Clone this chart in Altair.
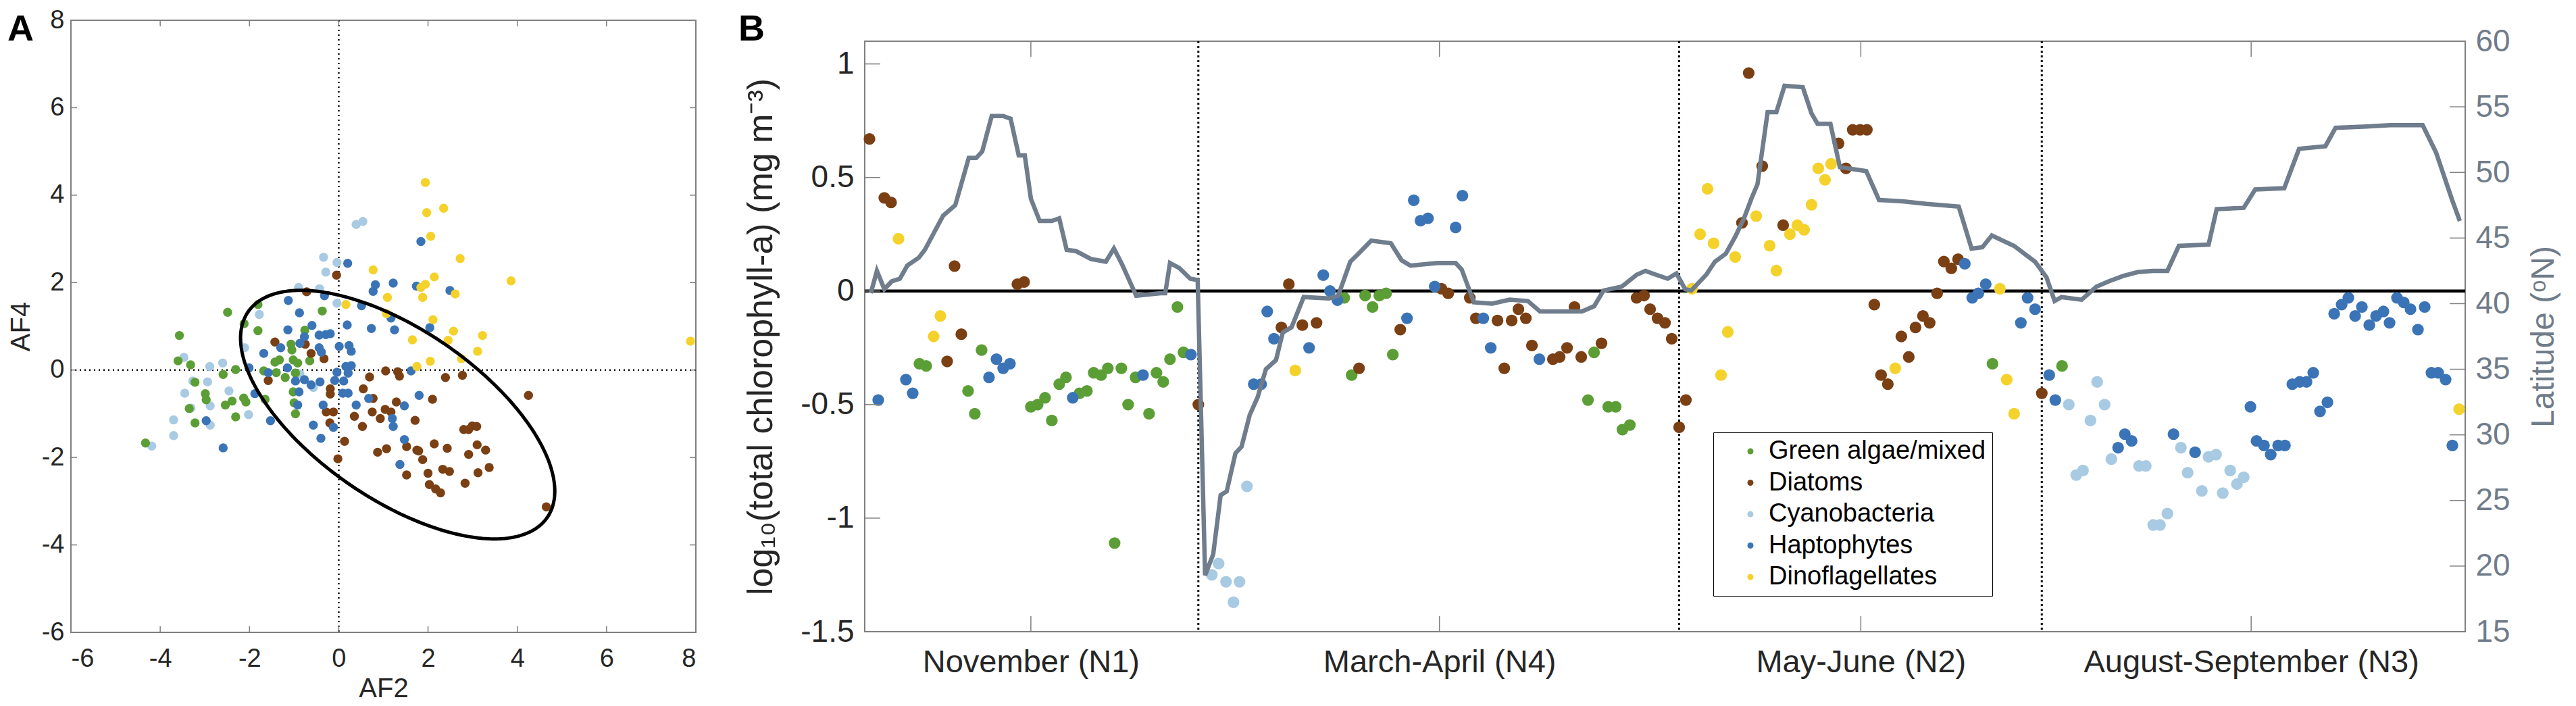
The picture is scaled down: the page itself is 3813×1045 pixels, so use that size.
import altair as alt
import pandas as pd
import numpy as np

CLASSES = ["Green algae/mixed", "Diatoms", "Cyanobacteria", "Haptophytes", "Dinoflagellates"]
COLORS = ["#5C9E36", "#7B3F14", "#A8CAE2", "#3B74B6", "#F4D22B"]
TXT = "#262626"
LATC = "#6F7D8C"

# ---------------- Panel A data (AF2, AF4) ----------------
a_green_x = [-2.49, -3.57, -1.81, -2.12, -1.81, -0.37, -0.76, -3.60, -3.32, -2.31, -2.59, -3.22, -2.99, -2.97,
             -2.54, -2.39, -2.13, -2.08, -1.65, -2.31, -3.22, -4.33, -3.35, -1.07, -1.05, -1.43, -1.33, -1.02,
             -0.92, -0.65, -1.68, -1.40, -1.20, -0.97, -1.02, -1.00, -0.97]
a_green_y = [1.32, 0.79, 1.50, 1.06, 0.90, 1.35, 0.91, 0.21, 0.12, 0.01, -0.10, -0.28, -0.54, -0.68,
             -0.80, -0.71, -0.64, -0.73, -0.67, -1.07, -1.21, -1.67, -0.88, 0.59, 0.46, 0.18, 0.23, 0.23,
             0.16, 0.21, -0.02, -0.06, -0.17, -0.07, -0.50, -0.75, -1.00]
a_cyano_x = [0.39, 0.54, -0.34, -0.04, -0.29, -0.90, -0.43, -0.04, -1.78, -2.11, -3.47, -2.89, -2.60, -3.27,
             -2.94, -3.45, -2.46, -3.31, -2.88, -2.02, -3.70, -2.88, -3.70, -4.19, -0.87, -0.57]
a_cyano_y = [3.33, 3.40, 2.58, 2.46, 2.24, 1.89, 1.86, 1.53, 1.27, 0.51, 0.29, 0.08, 0.16, -0.25,
             -0.27, -0.53, -0.48, -0.87, -0.82, -1.02, -1.14, -1.26, -1.50, -1.74, -0.09, -0.40]
a_hapto_x = [0.20, 0.82, 0.77, 1.22, -1.13, -0.32, -0.88, 0.19, 0.51, 0.73, 1.25, 1.17, -1.14, -0.60, -0.77,
             -0.44, -0.29, -0.19, -1.30, -1.68, -0.44, -0.39, -0.87, 0.01, 0.23, 0.28, -2.01, -1.58, -1.15,
             -0.97, -0.77, -0.62, -0.42, -0.04, 0.16, 0.28, 0.21, -0.09, 0.11, 0.09, 0.21, -0.89, -1.88,
             -0.92, -0.35, 0.39, 0.67, -1.53, -2.97, -0.57, -0.12, -0.40, -2.59, 1.20, 1.22, 1.37,
             1.84, 1.74, 2.49, 2.04, 1.62, 1.80, 1.47, 1.47]
a_hapto_y = [2.44, 1.95, 1.80, 1.99, 1.59, 1.70, 1.31, 1.03, 1.47, 0.95, 0.92, 1.19, 0.92, 1.02, 0.76,
             0.80, 0.81, 0.83, 0.51, 0.38, 0.51, 0.41, 0.61, 0.54, 0.56, 0.43, 0.05, -0.06, 0.05,
             -0.25, -0.22, -0.34, -0.27, -0.05, 0.08, 0.10, -0.07, -0.24, -0.25, -0.53, -0.53, -0.50, -0.54,
             -0.80, -0.80, -0.80, -0.65, -1.16, -1.16, -1.26, -1.31, -1.56, -1.78, -1.11, -1.29, -2.16,
             2.94, 1.92, 1.82, 0.97, -0.02, -0.58, -0.82, -1.59]
a_diatom_x = [-0.05, -0.72, -1.43, -0.75, -0.62, -0.33, -1.58, 0.69, 1.05, 1.32, 1.36, -0.19, -0.19, 0.55,
              0.77, 1.29, -0.28, -0.12, -0.20, 0.35, 0.75, 1.04, 1.17, 0.93, 0.53, 0.13, -0.02, 0.87, 1.07,
              2.39, 2.77, 4.25, 2.10, 1.71, 2.80, 2.91, 2.99, 3.09, 2.14, 2.43, 3.10, 3.29, 2.91, 1.52,
              1.75, 1.79, 1.88, 2.33, 2.48, 2.00, 1.52, 3.12, 3.37, 2.83, 2.03, 2.17, 2.28, 4.65]
a_diatom_y = [2.17, 1.79, 0.64, 0.59, 0.38, 0.26, -0.24, -0.16, -0.02, -0.04, -0.14, -0.43, -0.55, -0.43,
              -0.65, -0.73, -0.96, -0.96, -1.21, -1.06, -0.96, -0.90, -0.96, -1.11, -1.29, -1.63, -2.03, -1.88, -1.80,
              -0.17, -0.12, -0.58, -0.67, -1.15, -1.36, -1.36, -1.28, -1.29, -1.69, -1.79, -1.71, -1.83, -1.93, -1.75,
              -1.83, -1.85, -2.05, -2.27, -2.32, -2.36, -2.40, -2.35, -2.23, -2.59, -2.62, -2.72, -2.81, -3.13]
a_dino_x = [0.77, 1.09, 0.16, 1.07, 1.94, 1.97, 2.35, 2.06, 2.72, 2.14, 1.94, 1.84, 1.88, 2.61, 3.86,
            2.11, 2.57, 1.65, 2.45, 3.22, 3.11, 2.05, 2.75, 1.75, 7.88]
a_dino_y = [2.29, 1.66, 1.50, 1.29, 4.29, 3.60, 3.70, 3.06, 2.55, 2.13, 1.96, 1.89, 1.66, 1.74, 2.04,
            1.15, 0.89, 0.69, 0.68, 0.79, 0.43, 0.20, 0.26, 0.08, 0.66]
a_ticks = [-6, -4, -2, 0, 2, 4, 6, 8]
# ellipse: centre and Cholesky factor (lxx, lyx, lyy) of its shape matrix
ell_center = [1.32, -1.02]
ell_shape = [3.52, -1.75, 2.24]

# ---------------- Panel B data ----------------
b_green_x = [8.1, 9.1, 15.3, 16.3, 17.3, 24.6, 25.6, 26.7, 27.7, 28.8, 29.8, 31.8, 32.9, 33.9, 35.0, 36.0, 37.0,
             38.0, 39.0, 40.1, 42.1, 43.2, 44.2, 45.2, 46.3, 47.2, 71.0, 72.1, 74.1, 75.2, 76.2, 77.2, 78.2,
             107.1, 108.0, 110.1, 111.2, 112.2, 113.3, 167.0, 177.3]
b_green_y = [-0.32, -0.33, -0.44, -0.54, -0.26, -0.51, -0.50, -0.47, -0.57, -0.41, -0.38, -0.45, -0.44, -0.36,
             -0.37, -0.34, -1.11, -0.34, -0.50, -0.38, -0.54, -0.36, -0.40, -0.30, -0.07, -0.27, -0.03, -0.37,
             -0.02, -0.07, -0.02, -0.01, -0.28, -0.48, -0.27, -0.51, -0.51, -0.61, -0.59, -0.32, -0.33]
b_diatom_x = [0.7, 2.9, 3.9, 12.2, 13.3, 14.3, 22.6, 23.6, 49.4, 61.7, 62.8, 64.8, 66.9, 73.2, 79.3, 85.4, 86.4,
              89.6, 90.5, 93.7, 94.7, 95.8, 96.8, 97.9, 98.8, 101.9, 102.9, 104.0, 105.1, 106.1, 109.1, 114.3,
              115.4, 116.3, 117.4, 118.5, 119.5, 120.6, 121.6, 129.9, 130.9, 132.9, 136.0, 144.2, 145.3, 146.3,
              147.4, 148.4, 149.5, 150.5, 151.5, 153.5, 154.6, 155.6, 156.7, 157.7, 158.8, 159.8, 160.9, 161.9,
              174.3]
b_diatom_y = [0.67, 0.41, 0.39, -0.31, 0.11, -0.19, 0.03, 0.04, -0.50, -0.16, 0.03, -0.15, -0.14, -0.34, -0.17,
              0.01, -0.01, -0.03, -0.12, -0.13, -0.34, -0.13, -0.08, -0.12, -0.24, -0.30, -0.29, -0.25, -0.07,
              -0.29, -0.23, -0.03, -0.02, -0.08, -0.12, -0.14, -0.21, -0.60, -0.48, 0.30, 0.96, 0.55, 0.29, 0.65,
              0.54, 0.71, 0.71, 0.71, -0.06, -0.37, -0.41, -0.20, -0.29, -0.16, -0.11, -0.14, -0.01, 0.13, 0.10,
              0.14, -0.45]
b_cyano_x = [51.4, 52.4, 53.5, 54.6, 55.5, 56.6, 178.3, 179.4, 180.4, 181.5, 182.5, 183.6, 184.6, 188.7, 189.7,
             190.8, 191.8, 192.9, 194.9, 195.9, 198.0, 199.0, 200.1, 201.1, 202.2, 203.2, 204.2]
b_cyano_y = [-1.25, -1.20, -1.28, -1.37, -1.28, -0.86, -0.50, -0.81, -0.79, -0.57, -0.40, -0.50, -0.74, -0.77,
             -0.77, -1.03, -1.03, -0.98, -0.69, -0.80, -0.88, -0.73, -0.72, -0.89, -0.79, -0.85, -0.82]
b_hapto_x = [2.0, 6.1, 7.1, 18.4, 19.5, 20.5, 21.5, 30.8, 41.2, 48.3, 57.6, 58.7, 59.6, 60.6, 65.8, 67.9, 68.9,
             70.0, 80.3, 81.3, 82.3, 83.4, 84.4, 87.5, 88.5, 91.6, 92.7, 99.9, 162.9, 164.0, 164.9, 166.0, 171.2,
             172.2, 173.3, 175.4, 176.3, 185.6, 186.6, 187.6, 193.8, 197.0, 205.2, 206.1, 207.2, 208.2, 209.3,
             210.3, 211.4, 212.5, 213.5, 214.5, 215.5, 216.6, 217.6, 218.7, 219.7, 220.7, 221.7, 222.8, 223.8,
             224.9, 225.8, 226.9, 227.9, 228.9, 230.0, 231.0, 232.0, 233.0, 234.1, 235.1]
b_hapto_y = [-0.48, -0.39, -0.45, -0.38, -0.30, -0.34, -0.32, -0.47, -0.37, -0.28, -0.41, -0.41, -0.09, -0.21,
             -0.25, 0.07, 0.00, -0.04, -0.12, 0.40, 0.31, 0.32, 0.02, 0.28, 0.42, -0.12, -0.25, -0.30, 0.12,
             -0.03, -0.01, 0.03, -0.14, -0.03, -0.08, -0.37, -0.48, -0.69, -0.63, -0.66, -0.63, -0.71, -0.51,
             -0.66, -0.68, -0.72, -0.68, -0.68, -0.41, -0.40, -0.40, -0.36, -0.53, -0.49, -0.10, -0.06, -0.03,
             -0.11, -0.07, -0.15, -0.11, -0.09, -0.14, -0.03, -0.05, -0.08, -0.17, -0.07, -0.36, -0.36, -0.39,
             -0.68]
b_dino_x = [5.0, 10.2, 11.2, 63.75, 122.5, 123.7, 124.8, 125.7, 126.8, 127.8, 128.9, 132.0, 134.0, 135.0, 137.0,
            138.1, 139.1, 140.2, 141.2, 142.2, 143.1, 152.6, 168.1, 169.1, 170.2, 236.1]
b_dino_y = [0.23, -0.20, -0.11, -0.35, 0.01, 0.25, 0.45, 0.21, -0.37, -0.18, 0.15, 0.33, 0.20, 0.09, 0.25,
            0.29, 0.27, 0.38, 0.54, 0.49, 0.56, -0.34, 0.01, -0.39, -0.54, -0.52]

lat_x = [0.9, 1.8, 2.9, 4.0, 5.2, 6.3, 8.0, 8.9, 11.6, 13.4,
         15.4, 16.5, 17.4, 18.8, 20.5, 21.6, 22.8, 23.7, 24.6, 25.9,
         27.7, 28.8, 29.9, 31.3, 33.5, 35.7, 36.9, 38.1, 40.2, 43.8,
         44.5, 45.2, 46.6, 48.2, 49.3, 50.4, 51.6, 52.7, 53.6, 54.9,
         55.8, 57.0, 58.2, 59.4, 60.9, 61.9, 63.2, 65.0, 68.75, 70.1,
         71.9, 72.9, 75.0, 77.9, 79.5, 80.8, 84.8, 87.5, 88.4, 90.2,
         92.9, 95.5, 98.2, 100.0, 106.2, 108.0, 109.4, 112.1, 114.3, 115.6,
         117.2, 118.9, 120.2, 121.5, 122.4, 124.6, 125.9, 127.5, 128.9, 130.2,
         131.3, 132.2, 133.7, 135.0, 136.2, 138.9, 140.2, 141.1, 143.0, 144.4,
         148.3, 150.2, 153.7, 157.2, 162.0, 163.9, 165.5, 166.9, 170.2, 172.0,
         173.3, 175.0, 176.2, 177.2, 180.2, 182.4, 184.2, 186.3, 188.5, 190.7,
         192.9, 194.6, 199.0, 200.2, 204.2, 205.9, 210.2, 212.4, 216.3, 217.8,
         222.4, 225.9, 230.7, 232.7, 235.0, 236.2]
lat_y = [40.8, 42.5, 41.1, 41.7, 41.9, 42.9, 43.5, 44.1, 46.7, 47.5,
         51.1, 51.1, 51.6, 54.3, 54.3, 54.1, 51.3, 51.3, 48.0, 46.3,
         46.3, 46.5, 44.1, 44.0, 43.4, 43.2, 44.2, 43.0, 40.6, 40.8,
         40.8, 43.1, 42.7, 41.9, 41.8, 19.3, 20.9, 25.4, 25.7, 28.6,
         29.1, 31.5, 32.9, 35.0, 35.7, 37.8, 38.2, 40.5, 40.4, 40.6,
         43.2, 43.7, 44.8, 44.6, 43.3, 42.9, 43.1, 43.1, 42.6, 40.1,
         40.0, 40.3, 40.2, 39.4, 39.4, 39.8, 41.0, 41.3, 42.2, 42.5,
         42.2, 41.9, 42.3, 41.1, 41.0, 42.2, 43.2, 43.8, 45.1, 46.5,
         48.0, 49.1, 54.6, 54.6, 56.6, 56.5, 54.5, 53.7, 53.7, 50.4,
         50.1, 47.9, 47.8, 47.6, 47.4, 44.2, 44.3, 45.2, 44.4, 43.7,
         43.2, 42.0, 40.2, 40.5, 40.3, 41.3, 41.7, 42.1, 42.4, 42.5,
         42.5, 44.4, 44.5, 47.2, 47.3, 48.7, 48.8, 51.8, 52.0, 53.4,
         53.5, 53.6, 53.6, 51.5, 48.0, 46.3]

b_x_domain = [0, 237]
b_sections = [49.4, 120.6, 174.3]
b_tick_pos = [24.6, 85.1, 147.5, 205.3]
b_tick_labels = ["November (N1)", "March-April (N4)", "May-June (N2)", "August-September (N3)"]
b_chl_ticks = [-1.5, -1, -0.5, 0, 0.5, 1]
b_chl_domain = [-1.5, 1.1]
b_lat_ticks = [15, 20, 25, 30, 35, 40, 45, 50, 55, 60]
b_lat_domain = [15, 60]


def frame(xs, ys, cls):
    return pd.DataFrame({"x": xs, "y": ys, "cls": cls})


# ---------------- Panel A ----------------
WA, HA = 925, 906
dfA = pd.concat([
    frame(a_cyano_x, a_cyano_y, CLASSES[2]),
    frame(a_green_x, a_green_y, CLASSES[0]),
    frame(a_diatom_x, a_diatom_y, CLASSES[1]),
    frame(a_hapto_x, a_hapto_y, CLASSES[3]),
    frame(a_dino_x, a_dino_y, CLASSES[4]),
], ignore_index=True)

t = np.linspace(0, 2 * np.pi, 240)
ell = pd.DataFrame({
    "x": ell_center[0] + ell_shape[0] * np.cos(t),
    "y": ell_center[1] + ell_shape[1] * np.cos(t) + ell_shape[2] * np.sin(t),
    "o": np.arange(len(t)),
})

axA_x = alt.Axis(values=a_ticks, labelExpr="datum.value + ''", title="AF2", ticks=False, domain=False,
                 grid=False, labelFontSize=38, labelPadding=20, titleFontSize=40, titlePadding=5,
                 labelColor=TXT, titleColor=TXT, titleFontWeight="normal")
axA_y = alt.Axis(values=a_ticks, labelExpr="datum.value + ''", title="AF4", ticks=False, domain=False,
                 grid=False, labelFontSize=38, labelPadding=10, titleFontSize=40, titlePadding=10,
                 labelColor=TXT, titleColor=TXT, titleFontWeight="normal")
xA = alt.X("x:Q", scale=alt.Scale(domain=[-6, 8], nice=False, zero=False), axis=axA_x)
yA = alt.Y("y:Q", scale=alt.Scale(domain=[-6, 8], nice=False, zero=False), axis=axA_y)

tickA = pd.DataFrame({"x": a_ticks, "y": a_ticks})
zeroA = pd.DataFrame({"x": [0], "y": [0]})

A_vdot = alt.Chart(zeroA).mark_rule(color="black", strokeWidth=2.5, strokeDash=[2, 5]).encode(x=xA)
A_hdot = alt.Chart(zeroA).mark_rule(color="black", strokeWidth=2.5, strokeDash=[2, 5]).encode(y=yA)
A_pts = alt.Chart(dfA).mark_circle(size=180, opacity=1).encode(
    x=xA, y=yA,
    color=alt.Color("cls:N", scale=alt.Scale(domain=CLASSES, range=COLORS), legend=None),
)
A_ell = alt.Chart(ell).mark_line(color="black", strokeWidth=5).encode(x=xA, y=yA, order="o:Q")
tk = dict(color="#7F7F7F", strokeWidth=1.5)
A_tb = alt.Chart(tickA).mark_rule(**tk).encode(x=xA, y=alt.value(HA), y2=alt.value(HA - 9))
A_tt = alt.Chart(tickA).mark_rule(**tk).encode(x=xA, y=alt.value(0), y2=alt.value(9))
A_tl = alt.Chart(tickA).mark_rule(**tk).encode(y=yA, x=alt.value(0), x2=alt.value(9))
A_tr = alt.Chart(tickA).mark_rule(**tk).encode(y=yA, x=alt.value(WA - 9), x2=alt.value(WA))
A_lab = alt.Chart(pd.DataFrame({"t": ["A"]})).mark_text(
    fontSize=54, fontWeight="bold", align="left", baseline="alphabetic", color="black"
).encode(text="t:N", x=alt.value(-94), y=alt.value(30))

panelA = alt.layer(A_vdot, A_hdot, A_pts, A_ell, A_tb, A_tt, A_tl, A_tr, A_lab).properties(width=WA, height=HA)

# ---------------- Panel B ----------------
WB, HB = 2369, 874
HEAD = 31
dfB = pd.concat([
    frame(b_green_x, b_green_y, CLASSES[0]),
    frame(b_diatom_x, b_diatom_y, CLASSES[1]),
    frame(b_cyano_x, b_cyano_y, CLASSES[2]),
    frame(b_hapto_x, b_hapto_y, CLASSES[3]),
    frame(b_dino_x, b_dino_y, CLASSES[4]),
], ignore_index=True)
dfLat = pd.DataFrame({"x": lat_x, "lat": lat_y})

label_expr = " : ".join(
    f"abs(datum.value - {p}) < 0.5 ? '{lab}'" for p, lab in zip(b_tick_pos, b_tick_labels)
) + " : ''"
axB_x = alt.Axis(values=b_tick_pos, labelExpr=label_expr, title=None, ticks=False, domain=False, grid=False,
                 labelFontSize=47, labelPadding=22, labelColor=TXT, labelLimit=0)
axB_y = alt.Axis(values=b_chl_ticks, labelExpr="datum.value + ''",
                 title="log\u2081\u2080(total chlorophyll-a) (mg m\u207B\u00B3)",
                 ticks=False, domain=False, grid=False, labelFontSize=46, labelPadding=16,
                 titleFontSize=52, titlePadding=31, labelColor=TXT, titleColor=TXT, titleFontWeight="normal",
                 titleLimit=0)
axB_r = alt.Axis(orient="right", values=b_lat_ticks, labelExpr="datum.value + ''", title="Latitude (\u1D52N)",
                 ticks=False, domain=False, grid=False, labelFontSize=46, labelPadding=15, titleFontSize=48,
                 titlePadding=26, titleAngle=270, titleBaseline="top", labelColor="#707C89",
                 titleColor="#707C89", titleFontWeight="normal")
xB = alt.X("x:Q", scale=alt.Scale(domain=b_x_domain, nice=False, zero=False), axis=axB_x)
yB = alt.Y("y:Q", scale=alt.Scale(domain=b_chl_domain, nice=False, zero=False), axis=axB_y)
yR = alt.Y("lat:Q", scale=alt.Scale(domain=b_lat_domain, nice=False, zero=False), axis=axB_r)

B_zero = alt.Chart(pd.DataFrame({"y": [0]})).mark_rule(color="black", strokeWidth=4.5).encode(y=yB)
B_sec = alt.Chart(pd.DataFrame({"x": b_sections})).mark_rule(
    color="black", strokeWidth=3, strokeDash=[3, 4]).encode(x=xB)
B_pts = alt.Chart(dfB).mark_circle(size=300, opacity=1).encode(
    x=xB, y=yB,
    color=alt.Color("cls:N", scale=alt.Scale(domain=CLASSES, range=COLORS),
                    legend=alt.Legend(orient="none", legendX=1256, legendY=579 + HEAD, title=None,
                                      symbolType="circle", symbolSize=80, symbolStrokeWidth=0,
                                      labelFontSize=38, labelColor="black", rowPadding=8.5, labelLimit=0,
                                      padding=9, labelOffset=8, symbolOffset=27,
                                      strokeColor="black", fillColor="white", cornerRadius=0)),
)
tkB = dict(color="#7F7F7F", strokeWidth=1.5)
dfTx = pd.DataFrame({"x": b_tick_pos})
B_tb = alt.Chart(dfTx).mark_rule(**tkB).encode(x=xB, y=alt.value(HB), y2=alt.value(HB - 23))
B_tt = alt.Chart(dfTx).mark_rule(**tkB).encode(x=xB, y=alt.value(0), y2=alt.value(23))
B_tl = alt.Chart(pd.DataFrame({"y": b_chl_ticks})).mark_rule(**tkB).encode(
    y=yB, x=alt.value(0), x2=alt.value(23))

B_left = alt.layer(B_zero, B_sec, B_pts, B_tb, B_tt, B_tl)

B_line = alt.Chart(dfLat).mark_line(color=LATC, strokeWidth=6.5).encode(x=xB, y=yR)
B_tr = alt.Chart(pd.DataFrame({"lat": b_lat_ticks})).mark_rule(**tkB).encode(
    y=yR, x=alt.value(WB - 23), x2=alt.value(WB))
B_right = alt.layer(B_line, B_tr)

panelB = alt.layer(B_left, B_right).resolve_scale(y="independent").properties(width=WB, height=HB)

# strip above panel B carrying the "B" panel letter
B_head = alt.Chart(pd.DataFrame({"t": ["B"]})).mark_text(
    fontSize=54, fontWeight="bold", align="left", baseline="alphabetic", color="black"
).encode(text="t:N", x=alt.value(-187), y=alt.value(30)).properties(
    width=WB, height=HEAD, view=alt.ViewBackground(stroke="transparent"))

colB = alt.vconcat(B_head, panelB, spacing=0, bounds="flush")

chart = alt.hconcat(panelA, colB, spacing=250, bounds="flush").resolve_scale(color="independent").configure(
    font="Liberation Sans", padding={"left": 2, "top": 2, "right": 2, "bottom": 2}
).configure_view(stroke="#7F7F7F", strokeWidth=2)

chart.save("out.html", embed_options={"renderer": "svg", "actions": False})
